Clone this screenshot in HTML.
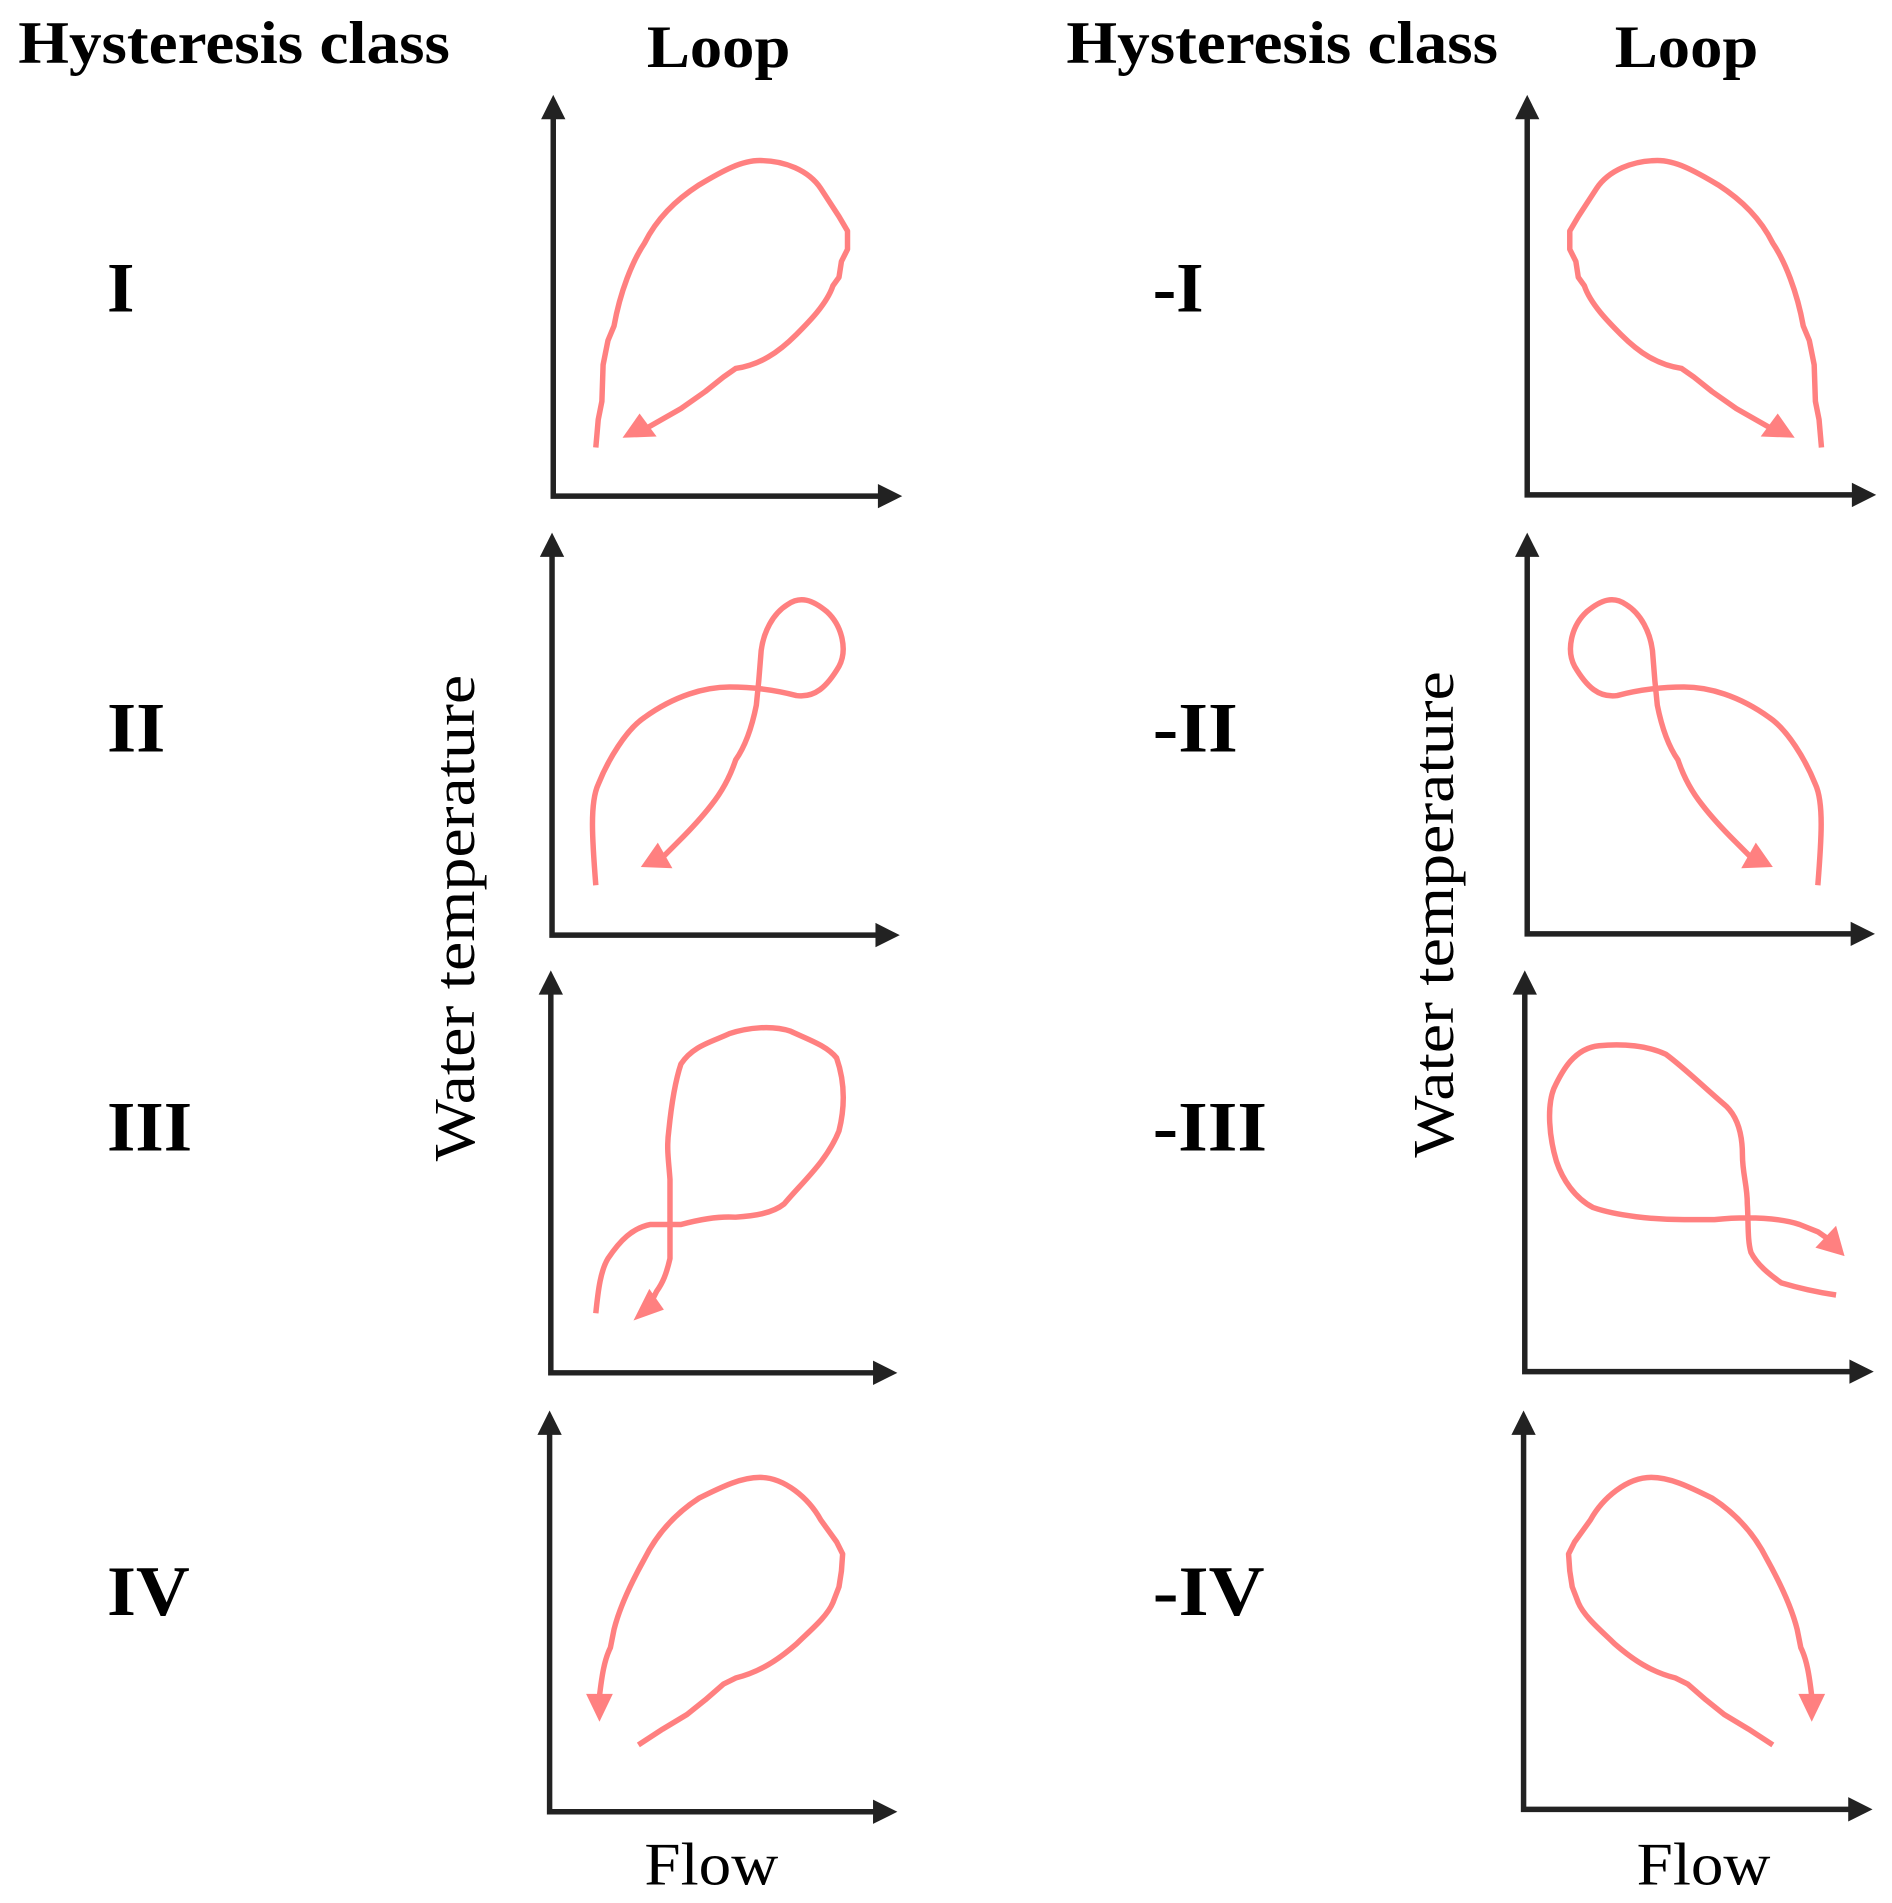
<!DOCTYPE html>
<html><head><meta charset="utf-8"><style>
html,body{margin:0;padding:0;background:#fff}
svg{display:block}
text{font-family:"Liberation Serif",serif;fill:#000}
.h{font-weight:bold;font-size:50px}
.n{font-weight:bold;font-size:58px}
.ax{stroke:#222;stroke-width:4.5;fill:none}
.ah{fill:#222}
.lp{stroke:#ff8080;stroke-width:4.5;fill:none;stroke-linecap:butt;stroke-linejoin:round}
.at{fill:#ff8080}
</style></head><body>
<svg width="1892" height="1903" viewBox="0 0 1556 1565" xmlns="http://www.w3.org/2000/svg">
<text class="h" x="15" y="52" textLength="355" lengthAdjust="spacingAndGlyphs">Hysteresis class</text>
<text class="h" x="532" y="55" textLength="118" lengthAdjust="spacingAndGlyphs">Loop</text>
<text class="h" x="877" y="52" textLength="355" lengthAdjust="spacingAndGlyphs">Hysteresis class</text>
<text class="h" x="1328" y="55" textLength="118" lengthAdjust="spacingAndGlyphs">Loop</text>
<text class="n" x="88" y="256">I</text>
<text class="n" x="88" y="618" textLength="48" lengthAdjust="spacingAndGlyphs">II</text>
<text class="n" x="88" y="946" textLength="70" lengthAdjust="spacingAndGlyphs">III</text>
<text class="n" x="88" y="1328" textLength="68" lengthAdjust="spacingAndGlyphs">IV</text>
<text class="n" x="948" y="256">-I</text>
<text class="n" x="948" y="618" textLength="70" lengthAdjust="spacingAndGlyphs">-II</text>
<text class="n" x="948" y="946" textLength="94" lengthAdjust="spacingAndGlyphs">-III</text>
<text class="n" x="948" y="1328" textLength="92" lengthAdjust="spacingAndGlyphs">-IV</text>
<text x="0" y="0" font-size="48" text-anchor="middle" textLength="400" lengthAdjust="spacingAndGlyphs" transform="translate(390,755) rotate(-90)">Water temperature</text>
<text x="0" y="0" font-size="48" text-anchor="middle" textLength="400" lengthAdjust="spacingAndGlyphs" transform="translate(1195,752) rotate(-90)">Water temperature</text>
<text x="530" y="1550" font-size="50" textLength="110" lengthAdjust="spacingAndGlyphs">Flow</text>
<text x="1346" y="1550" font-size="50" textLength="110" lengthAdjust="spacingAndGlyphs">Flow</text>

<g>
<path class="ax" d="M455,96 V408 H724"/><polygon class="ah" points="445,98 465,98 455,78"/><polygon class="ah" points="722,398 722,418 742,408"/>
<path class="ax" d="M454,456 V769 H722"/><polygon class="ah" points="444,458 464,458 454,438"/><polygon class="ah" points="720,759 720,779 740,769"/>
<path class="ax" d="M453,816 V1129 H720"/><polygon class="ah" points="443,818 463,818 453,798"/><polygon class="ah" points="718,1119 718,1139 738,1129"/>
<path class="ax" d="M452,1178 V1490 H720"/><polygon class="ah" points="442,1180 462,1180 452,1160"/><polygon class="ah" points="718,1480 718,1500 738,1490"/>
<path class="ax" d="M1256,96 V407 H1525"/><polygon class="ah" points="1246,98 1266,98 1256,78"/><polygon class="ah" points="1523,397 1523,417 1543,407"/>
<path class="ax" d="M1256,456 V768 H1524"/><polygon class="ah" points="1246,458 1266,458 1256,438"/><polygon class="ah" points="1522,758 1522,778 1542,768"/>
<path class="ax" d="M1254,816 V1128 H1523"/><polygon class="ah" points="1244,818 1264,818 1254,798"/><polygon class="ah" points="1521,1118 1521,1138 1541,1128"/>
<path class="ax" d="M1253,1178 V1488 H1522"/><polygon class="ah" points="1243,1180 1263,1180 1253,1160"/><polygon class="ah" points="1520,1478 1520,1498 1540,1488"/>
</g>

<g>
<path class="lp" d="M490,368 L492,345 L495,330 L496,300 L500,280 L505,268 C510,240 520,215 530,200 C540,180 555,165 575,152 C595,140 610,132 625,132 C645,132 665,140 675,155 L690,178 L697,190 L697,205 L692,215 L690,228 L685,235 C680,250 665,265 655,275 C640,290 625,300 605,303 L595,310 L580,322 L560,336 L532,352"/>
<polygon class="at" points="512,360 540,359 526,340"/>
</g>
<g transform="translate(1988,0) scale(-1,1)">
<path class="lp" d="M490,368 L492,345 L495,330 L496,300 L500,280 L505,268 C510,240 520,215 530,200 C540,180 555,165 575,152 C595,140 610,132 625,132 C645,132 665,140 675,155 L690,178 L697,190 L697,205 L692,215 L690,228 L685,235 C680,250 665,265 655,275 C640,290 625,300 605,303 L595,310 L580,322 L560,336 L532,352"/>
<polygon class="at" points="512,360 540,359 526,340"/>
</g>

<g>
<path class="lp" d="M490,728 C487,690 485,660 492,645 C500,625 515,600 530,590 C555,572 580,565 600,565 C620,565 640,568 655,572 C670,574 680,565 690,548 C697,535 693,515 680,503 C668,493 658,490 648,497 C635,505 628,520 626,535 L624,560 L622,580 C618,600 612,615 605,625 C600,640 593,652 585,662 C575,675 565,685 558,692 L546,704"/>
<polygon class="at" points="527,713 553,714 541,693"/>
</g>
<g transform="translate(1985,0) scale(-1,1)">
<path class="lp" d="M490,728 C487,690 485,660 492,645 C500,625 515,600 530,590 C555,572 580,565 600,565 C620,565 640,568 655,572 C670,574 680,565 690,548 C697,535 693,515 680,503 C668,493 658,490 648,497 C635,505 628,520 626,535 L624,560 L622,580 C618,600 612,615 605,625 C600,640 593,652 585,662 C575,675 565,685 558,692 L546,704"/>
<polygon class="at" points="527,713 553,714 541,693"/>
</g>

<path class="lp" d="M490,1080 C492,1060 494,1045 500,1035 C510,1020 520,1010 535,1007 L560,1007 C575,1003 590,1000 605,1001 C620,1000 635,998 645,990 C660,972 680,955 690,930 C695,910 695,890 688,870 C680,860 665,855 650,848 C635,843 615,845 600,850 C585,857 570,860 560,875 C555,890 552,910 550,930 C548,945 550,955 551,970 L551,1000 L551,1035 C548,1048 545,1055 540,1062 L535,1072"/>
<polygon class="at" points="521,1086 546,1077 534,1060"/>

<path class="lp" d="M1510,1065 C1490,1062 1475,1058 1465,1055 C1455,1048 1445,1040 1440,1030 C1437,1020 1438,1005 1437,990 C1437,975 1433,965 1433,950 C1433,935 1430,920 1420,910 C1400,893 1385,878 1370,867 C1355,860 1335,858 1315,860 C1295,862 1285,880 1278,895 C1272,910 1274,935 1280,955 C1285,970 1295,985 1310,993 C1330,1000 1360,1003 1385,1003 L1410,1003 C1440,1000 1465,1002 1480,1007 L1495,1013 L1505,1020"/>
<polygon class="at" points="1517,1033 1493,1026 1510,1008"/>

<g>
<path class="lp" d="M525,1435 L545,1422 L565,1410 L580,1398 L595,1385 L605,1380 C625,1375 640,1365 655,1352 C665,1342 680,1330 685,1318 L690,1305 L692,1292 L693,1278 L688,1268 L675,1250 C665,1232 645,1215 625,1215 C610,1215 595,1222 575,1232 C555,1245 540,1262 530,1282 C520,1300 510,1320 505,1340 L502,1355 C497,1365 495,1378 493,1395"/>
<polygon class="at" points="482,1393 504,1393 493,1416"/>
</g>
<g transform="translate(1983,0) scale(-1,1)">
<path class="lp" d="M525,1435 L545,1422 L565,1410 L580,1398 L595,1385 L605,1380 C625,1375 640,1365 655,1352 C665,1342 680,1330 685,1318 L690,1305 L692,1292 L693,1278 L688,1268 L675,1250 C665,1232 645,1215 625,1215 C610,1215 595,1222 575,1232 C555,1245 540,1262 530,1282 C520,1300 510,1320 505,1340 L502,1355 C497,1365 495,1378 493,1395"/>
<polygon class="at" points="482,1393 504,1393 493,1416"/>
</g>
</svg>
</body></html>
